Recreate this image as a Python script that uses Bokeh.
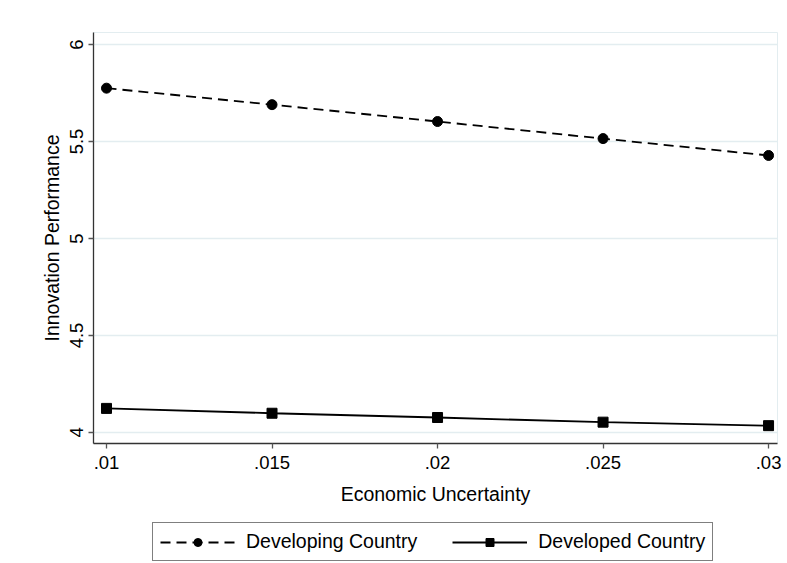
from bokeh.plotting import figure
from bokeh.layouts import column
from bokeh.models import (Range1d, FixedTicker, CustomJSTickFormatter, Legend, LegendItem, ColumnDataSource)
from bokeh.embed import file_html
from bokeh.resources import INLINE

uncertainty = [0.01, 0.015, 0.02, 0.025, 0.03]
developing = [5.775, 5.690, 5.603, 5.515, 5.428]
developed = [4.124, 4.099, 4.077, 4.053, 4.035]
x_ticks = [0.01, 0.015, 0.02, 0.025, 0.03]
y_ticks = [4, 4.5, 5, 5.5, 6]
series_names = ["Developing Country", "Developed Country"]

FONT = "Liberation Sans"

p = figure(width=787, height=515, output_backend="svg", toolbar_location=None,
           x_range=Range1d(0.009607, 0.03027), y_range=Range1d(3.943, 6.062),
           min_border_left=93, min_border_right=10, min_border_top=32,
           min_border_bottom=72)

p.background_fill_color = "white"
p.border_fill_color = "white"
p.outline_line_color = "#e3edf0"
p.outline_line_width = 1

src1 = ColumnDataSource(dict(x=uncertainty, y=developing))
src2 = ColumnDataSource(dict(x=uncertainty, y=developed))

dev_line = dict(line_color="black", line_width=1.8, line_dash="10 6")
dev_mark = dict(marker="circle", size=10, fill_color="black", line_color="black")
dvd_line = dict(line_color="black", line_width=1.8)
dvd_mark = dict(marker="square", size=10, fill_color="black", line_color="black")

p.line("x", "y", source=src1, **dev_line)
p.scatter("x", "y", source=src1, **dev_mark)
p.line("x", "y", source=src2, **dvd_line)
p.scatter("x", "y", source=src2, **dvd_mark)

p.xaxis.ticker = FixedTicker(ticks=x_ticks)
p.yaxis.ticker = FixedTicker(ticks=y_ticks)
p.xaxis.formatter = CustomJSTickFormatter(code="return tick.toFixed(3).replace(/0+$/, '').replace(/^0/, '');")
p.yaxis.formatter = CustomJSTickFormatter(code="return String(Math.round(tick*10)/10);")
p.yaxis.major_label_orientation = "vertical"

for ax in (p.xaxis, p.yaxis):
    ax.axis_line_color = "#333333"
    ax.axis_line_width = 1.3
    ax.major_tick_line_color = "#555555"
    ax.major_tick_line_width = 1.3
    ax.major_tick_in = 0
    ax.major_tick_out = 5
    ax.minor_tick_line_color = None
    ax.major_label_text_font = FONT
    ax.major_label_text_font_size = "18.5px"
    ax.major_label_text_color = "black"
    ax.axis_label_text_font = FONT
    ax.axis_label_text_font_size = "19.5px"
    ax.axis_label_text_font_style = "normal"
    ax.axis_label_text_color = "black"

p.xaxis.axis_label = "Economic Uncertainty"
p.yaxis.axis_label = "Innovation Performance"
p.xaxis.major_label_standoff = 7
p.xaxis.axis_label_standoff = 11
p.yaxis.major_label_standoff = 5
p.yaxis.axis_label_standoff = 5

p.xgrid.grid_line_color = None
p.ygrid.grid_line_color = "#e3edf0"
p.ygrid.grid_line_width = 1.5

# legend strip below the chart (series drawn out of view, only their legend shows)
lg = figure(width=787, height=48, output_backend="svg", toolbar_location=None,
            x_axis_location=None, y_axis_location=None,
            x_range=Range1d(0, 1), y_range=Range1d(0, 1),
            min_border=0)
lg.outline_line_color = None
lg.grid.grid_line_color = None
lg.background_fill_color = "white"
lg.border_fill_color = "white"
pl1 = lg.line("x", "y", source=src1, **dev_line)
pm1 = lg.scatter("x", "y", source=src1, **dev_mark)
pl2 = lg.line("x", "y", source=src2, **dvd_line)
pm2 = lg.scatter("x", "y", source=src2, **dvd_mark)

legend = Legend(items=[
    LegendItem(label=series_names[0], renderers=[pl1, pm1]),
    LegendItem(label=series_names[1], renderers=[pl2, pm2]),
], orientation="horizontal", location=(59, 2))
legend.label_text_font = FONT
legend.label_text_font_size = "19.5px"
legend.label_text_color = "black"
legend.glyph_width = 75
legend.glyph_height = 20
legend.label_standoff = 11
legend.spacing = 35
legend.padding = 7
legend.margin = 0
legend.border_line_color = "black"
legend.border_line_width = 1
legend.background_fill_color = "white"
lg.add_layout(legend, "center")

layout = column(p, lg, spacing=0)
open("out.html", "w").write(file_html(layout, INLINE))
